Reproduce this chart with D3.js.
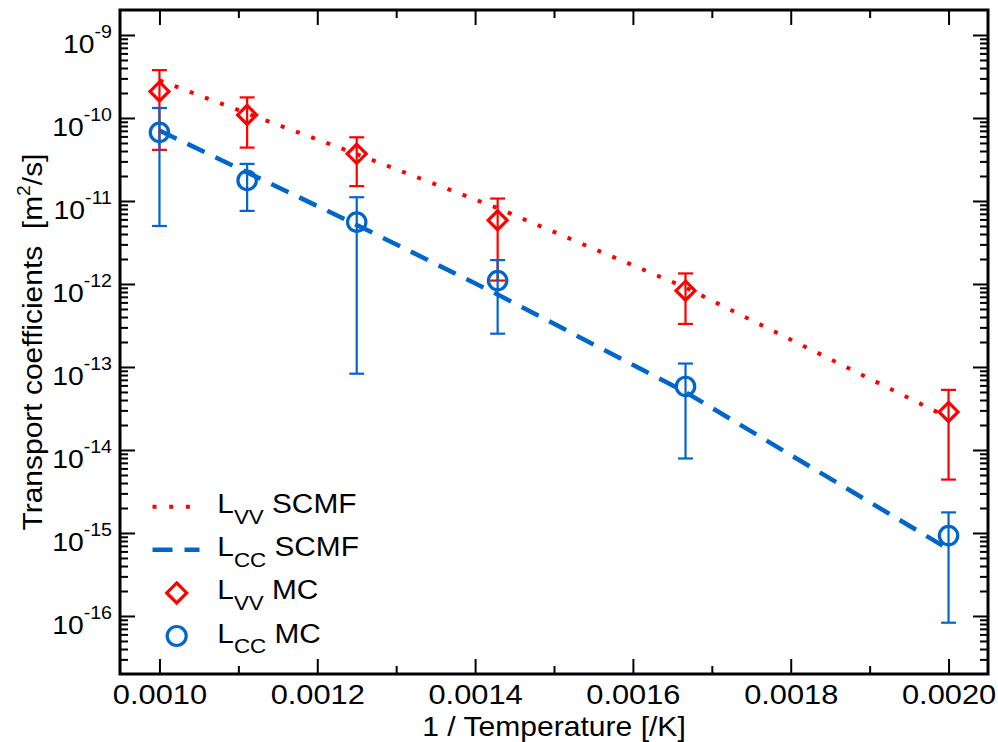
<!DOCTYPE html>
<html><head><meta charset="utf-8">
<script src="https://cdn.jsdelivr.net/npm/d3@7"></script>
<style>
body{margin:0;background:#fff;}
svg{display:block;font-family:"Liberation Sans",Arial,sans-serif;}
</style></head>
<body><svg id="c" width="998" height="742"></svg>
<script>
// ---- data ----
const invT    = [1/1000, 1/900, 1/800, 1/700, 1/600, 1/500];
const lvvSCMF = [2.84e-10, 1.135e-10, 3.67e-11, 8.2e-12, 9.06e-13, 2.45e-14];
const lccSCMF = [7.06e-11, 2.21e-11, 5.15e-12, 7.46e-13, 4.97e-14, 6.38e-16];
const lvvMC   = [2.09e-10, 1.09e-10, 3.7e-11, 5.85e-12, 8.3e-13, 2.87e-14];
const lvvLo   = [4.13e-11, 4.4e-11, 1.51e-11, 1.1e-12, 3.3e-13, 4.4e-15];
const lvvHi   = [3.77e-10, 1.77e-10, 5.85e-11, 1.07e-11, 1.34e-12, 5.3e-14];
const lccMC   = [6.7e-11, 1.77e-11, 5.58e-12, 1.1e-12, 5.83e-14, 9.3e-16];
const lccLo   = [5.0e-12, 7.6e-12, 8.3e-14, 2.52e-13, 7.9e-15, 8.3e-17];
const lccHi   = [1.32e-10, 2.8e-11, 1.11e-11, 1.94e-12, 1.1e-13, 1.77e-15];
const xTicks  = [0.0010, 0.0012, 0.0014, 0.0016, 0.0018, 0.0020];
const xMinor  = [0.0011, 0.0013, 0.0015, 0.0017, 0.0019];
const yExps   = [-16, -15, -14, -13, -12, -11, -10, -9];

const RED = "#ff0000", BLUE = "#0066cc";
const FONT = "Liberation Sans, Arial, sans-serif";
const L = 120, R = 988, T = 10, B = 674;
const svg = d3.select("#c");
const x = d3.scaleLinear([0.00095, 0.00205], [L, R]);
const y = d3.scaleLog([2e-17, 2e-9], [B, T]);

const yMajor = yExps.map(e => Math.pow(10, e));
const yMinor = [];
for (let e = -17; e <= -9; e++) for (let m = 2; m <= 9; m++) {
  const v = m * Math.pow(10, e);
  if (v > 2.01e-17 && v < 1.99e-9) yMinor.push(v);
}

function styleAxis(g){ g.select(".domain").remove(); g.selectAll("line").attr("stroke","#000").attr("stroke-width",2); }

// bottom
svg.append("g").attr("transform",`translate(0,${B})`)
  .call(d3.axisBottom(x).tickValues(xTicks).tickSize(-15).tickPadding(10).tickFormat(d3.format(".4f")))
  .call(styleAxis)
  .call(g => g.selectAll("text").attr("font-size",28).attr("fill","#000").attr("font-family",FONT)
    .attr("transform","scale(1.1,1)"));
svg.append("g").attr("transform",`translate(0,${B})`)
  .call(d3.axisBottom(x).tickValues(xMinor).tickSize(-8).tickFormat("")).call(styleAxis);
// top
svg.append("g").attr("transform",`translate(0,${T})`)
  .call(d3.axisTop(x).tickValues(xTicks).tickSize(-15).tickFormat("")).call(styleAxis);
svg.append("g").attr("transform",`translate(0,${T})`)
  .call(d3.axisTop(x).tickValues(xMinor).tickSize(-8).tickFormat("")).call(styleAxis);
// left
const gl = svg.append("g").attr("transform",`translate(${L},0)`)
  .call(d3.axisLeft(y).tickValues(yMajor).tickSize(-15).tickPadding(8).tickFormat(""))
  .call(styleAxis);
gl.selectAll(".tick text").each(function(d){
  const t = d3.select(this).attr("x", 0).attr("dy", null).attr("y", 17)
    .attr("transform","translate(-8,0) scale(1.09,1)")
    .attr("text-anchor","end").attr("fill","#000").attr("font-size",26)
    .attr("font-family",FONT);
  t.append("tspan").text("10");
  t.append("tspan").attr("font-size",18).attr("dy",-14.5).text(String(Math.round(Math.log10(d))));
});
svg.append("g").attr("transform",`translate(${L},0)`)
  .call(d3.axisLeft(y).tickValues(yMinor).tickSize(-8).tickFormat("")).call(styleAxis);
// right
svg.append("g").attr("transform",`translate(${R},0)`)
  .call(d3.axisRight(y).tickValues(yMajor).tickSize(-15).tickFormat("")).call(styleAxis);
svg.append("g").attr("transform",`translate(${R},0)`)
  .call(d3.axisRight(y).tickValues(yMinor).tickSize(-8).tickFormat("")).call(styleAxis);

// frame
svg.append("rect").attr("x",L).attr("y",T).attr("width",R-L).attr("height",B-T)
  .attr("fill","none").attr("stroke","#000").attr("stroke-width",3);

// axis labels
svg.append("text").attr("transform",`translate(${(L+R)/2},736) scale(1.075,1)`).attr("text-anchor","middle")
  .attr("font-size",28).text("1 / Temperature [/K]");
const yl = svg.append("text").attr("transform",`translate(42,${(T+B)/2}) rotate(-90) scale(1.07,1)`)
  .attr("text-anchor","middle").attr("font-size",28);
yl.append("tspan").text("Transport coefficients\u00A0\u00A0[m");
yl.append("tspan").attr("font-size",18).attr("dy",-12).text("2");
yl.append("tspan").attr("dy",12).text("/s]");

// lines
const line = d3.line().x((d,i)=>x(invT[i])).y(d=>y(d));
svg.append("path").datum(lccSCMF).attr("d",line).attr("fill","none")
  .attr("stroke",BLUE).attr("stroke-width",4.5).attr("stroke-dasharray","19,12");
svg.append("path").datum(lvvSCMF).attr("d",line).attr("fill","none")
  .attr("stroke",RED).attr("stroke-width",4).attr("stroke-dasharray","4,12.2");

function errBars(vals, lo, hi, color){
  const g = svg.append("g").attr("stroke",color).attr("stroke-width",2.2);
  invT.forEach((t,i)=>{
    const cx = x(t);
    g.append("line").attr("x1",cx).attr("x2",cx).attr("y1",y(lo[i])).attr("y2",y(hi[i]));
    g.append("line").attr("x1",cx-7.5).attr("x2",cx+7.5).attr("y1",y(lo[i])).attr("y2",y(lo[i]));
    g.append("line").attr("x1",cx-7.5).attr("x2",cx+7.5).attr("y1",y(hi[i])).attr("y2",y(hi[i]));
  });
}
errBars(lvvMC, lvvLo, lvvHi, RED);
errBars(lccMC, lccLo, lccHi, BLUE);

const diamond = (cx,cy,r)=>`M${cx},${cy-r}L${cx+r},${cy}L${cx},${cy+r}L${cx-r},${cy}Z`;
svg.append("g").selectAll("path").data(lvvMC).join("path")
  .attr("d",(d,i)=>diamond(x(invT[i]), y(d), 9.5))
  .attr("fill","none").attr("stroke",RED).attr("stroke-width",3.2);
svg.append("g").selectAll("circle").data(lccMC).join("circle")
  .attr("cx",(d,i)=>x(invT[i])).attr("cy",d=>y(d)).attr("r",9.2)
  .attr("fill","none").attr("stroke",BLUE).attr("stroke-width",3.2);

// legend
const legRows = [
  {sub:"VV", rest:"SCMF", kind:"dot"},
  {sub:"CC", rest:"SCMF", kind:"dash"},
  {sub:"VV", rest:"MC", kind:"diamond"},
  {sub:"CC", rest:"MC", kind:"circle"}
];
const legY0 = 506.7, legDY = 43.1;
legRows.forEach((r,k)=>{
  const cy = legY0 + k*legDY;
  if (r.kind==="dot") svg.append("line").attr("x1",152.5).attr("x2",192).attr("y1",cy).attr("y2",cy)
      .attr("stroke",RED).attr("stroke-width",4).attr("stroke-dasharray","4,12.7");
  if (r.kind==="dash") svg.append("line").attr("x1",152.5).attr("x2",199.5).attr("y1",cy).attr("y2",cy)
      .attr("stroke",BLUE).attr("stroke-width",4.5).attr("stroke-dasharray","20,12");
  if (r.kind==="diamond") svg.append("path").attr("d",diamond(176.7,cy,10)).attr("fill","none")
      .attr("stroke",RED).attr("stroke-width",3.2);
  if (r.kind==="circle") svg.append("circle").attr("cx",176.7).attr("cy",cy).attr("r",9.5).attr("fill","none")
      .attr("stroke",BLUE).attr("stroke-width",3.2);
  const t = svg.append("text").attr("transform",`translate(217.3,${cy+6.5}) scale(1.065,1)`).attr("font-size",28);
  t.append("tspan").text("L");
  t.append("tspan").attr("font-size",21).attr("dy",10.5).text(r.sub);
  t.append("tspan").attr("dy",-10.5).text("\u00A0" + r.rest);
});
</script></body></html>
